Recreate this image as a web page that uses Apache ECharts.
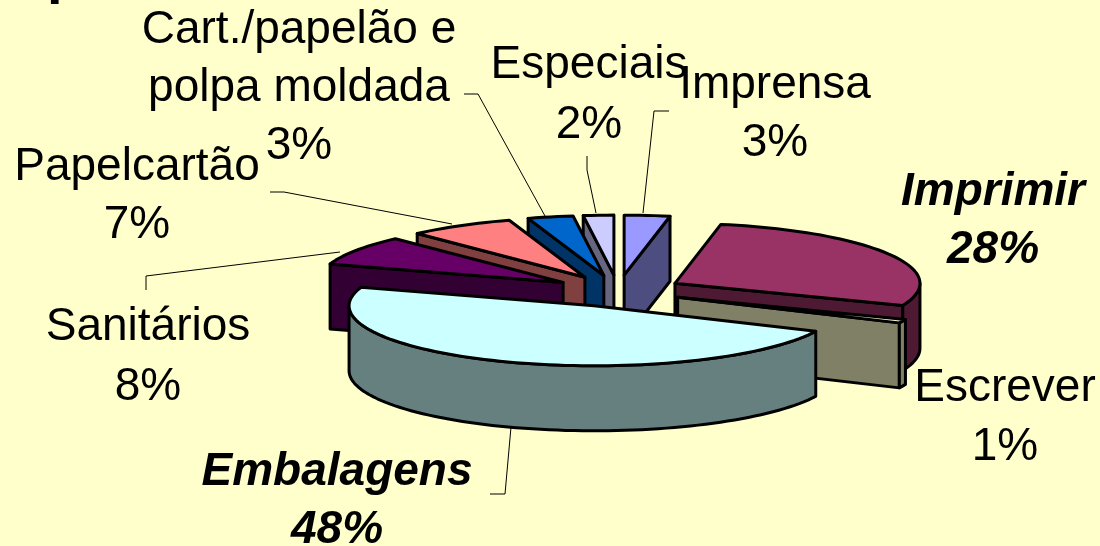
<!DOCTYPE html>
<html>
<head>
<meta charset="utf-8">
<style>html,body{margin:0;padding:0;background:#FFFFCC}#c{width:1100px;height:546px}</style>
<script src="https://cdn.jsdelivr.net/npm/echarts@6/dist/echarts.min.js"></script>
</head>
<body>
<div id="c"></div>
<script>
// Pie order, clockwise from 12 o'clock
const categories = ['Imprensa','Imprimir','Escrever','Embalagens','Sanitários','Papelcartão','Cart./papelão e\npolpa moldada','Especiais'];
const shares = [3,28,1,48,8,7,3,2];
const topColors = ['#9999FF','#993366','#FFFFCC','#CCFFFF','#660066','#FF8080','#0066CC','#CCCCFF'];
const wallColors = ['#4D4D80','#4D1933','#808066','#668080','#330033','#804040','#003366','#666680'];

// Projection of the pie and painter's order (back to front)
const pie = {cx:618, cy:291, rx:245, ry:60, depth:65, explode:65};
const drawOrder = [7,6,5,4,0,1,2,3];

// Label layout: centre x, first line y, line gap, bold italic flag, leader polyline
const labelLayout = [
  {x:775, y:85,  gap:58, leader:[[669,111],[654,111],[643,213]]},
  {x:993, y:192, gap:58, bold:true},
  {x:1005,y:388, gap:59},
  {x:337, y:472, gap:58, bold:true, leader:[[490,494],[505,494],[511,427]]},
  {x:148, y:327, gap:60, leader:[[146,290],[146,276],[340,252]]},
  {x:137, y:167, gap:58, leader:[[270,192],[284,192],[452,224]]},
  {x:299, y:30,  gap:58, leader:[[464,94],[478,94],[545,216]]},
  {x:589, y:65,  gap:60, leader:[[587,156],[587,170],[596,213]]}
];

const total = shares.reduce((a,b)=>a+b,0);
const startAngles = [];
shares.reduce((acc,v,i)=>{startAngles[i]=acc/total*360;return acc+v;},0);
const rad = d => d*Math.PI/180;

function renderSlice(params, api){
  const i = api.value(0);
  const a0 = startAngles[i], a1 = a0 + shares[i]/total*360;
  const mid = rad((a0+a1)/2);
  const ax = pie.cx + pie.explode*Math.sin(mid);
  const ay = pie.cy - pie.explode*(pie.ry/pie.rx)*Math.cos(mid);
  const pt = d => [ax + pie.rx*Math.sin(rad(d)), ay - pie.ry*Math.cos(rad(d))];
  const down = p => [p[0], p[1]+pie.depth];
  const arc = (s,e) => { const out=[]; const n=Math.max(2,Math.ceil((e-s)/2));
    for(let k=0;k<=n;k++) out.push(pt(s+(e-s)*k/n)); return out; };
  const line = {stroke:'#000', lineWidth:3, lineJoin:'round'};
  const children = [];
  const poly = (pts,fill) => children.push({type:'polygon', shape:{points:pts}, style:Object.assign({fill},line)});
  const wall = d => { const p=pt(d); poly([[ax,ay],p,down(p),[ax,ay+pie.depth]], wallColors[i]); };
  // radial walls that face the viewer
  if (-Math.sin(rad(a0)) > 1e-6) wall(a0);
  if (Math.sin(rad(a1)) > 1e-6) wall(a1);
  // outer rim on the front half of the pie
  const s = Math.max(a0,90), e = Math.min(a1,270);
  if (e > s) { const top = arc(s,e); poly(top.concat(top.map(down).reverse()), wallColors[i]); }
  // top face
  poly([[ax,ay]].concat(arc(a0,a1)), topColors[i]);
  return {type:'group', children};
}

function renderLabel(params, api){
  const i = api.value(0), l = labelLayout[i];
  const children = [];
  if (l.leader) children.push({type:'polyline', shape:{points:l.leader}, style:{fill:null, stroke:'#000', lineWidth:1}});
  const lines = categories[i].split('\n').concat([shares[i]+'%']);
  lines.forEach((t,k)=>children.push({type:'text', style:{
    text:t, x:l.x, y:l.y+k*l.gap, align:'center', verticalAlign:'middle', fill:'#000',
    font:(l.bold?'italic bold ':'')+'46px "Liberation Sans", Arial, sans-serif'}}));
  return {type:'group', children};
}

const chart = echarts.init(document.getElementById('c'), null, {renderer:'canvas'});
chart.setOption({
  backgroundColor:'#FFFFCC',
  animation:false,
  graphic:[{type:'text', silent:true, style:{text:'p', x:47, y:5, verticalAlign:'bottom',
    fill:'#000', font:'bold 56px "Liberation Sans", Arial, sans-serif'}}],
  series:[
    {type:'custom', coordinateSystem:'none', silent:true, renderItem:renderLabel, z:1,
     data:categories.map((c,i)=>[i])},
    {type:'custom', coordinateSystem:'none', silent:true, renderItem:renderSlice, z:2,
     data:drawOrder.map(i=>[i])}
  ]
});
</script>
</body>
</html>
